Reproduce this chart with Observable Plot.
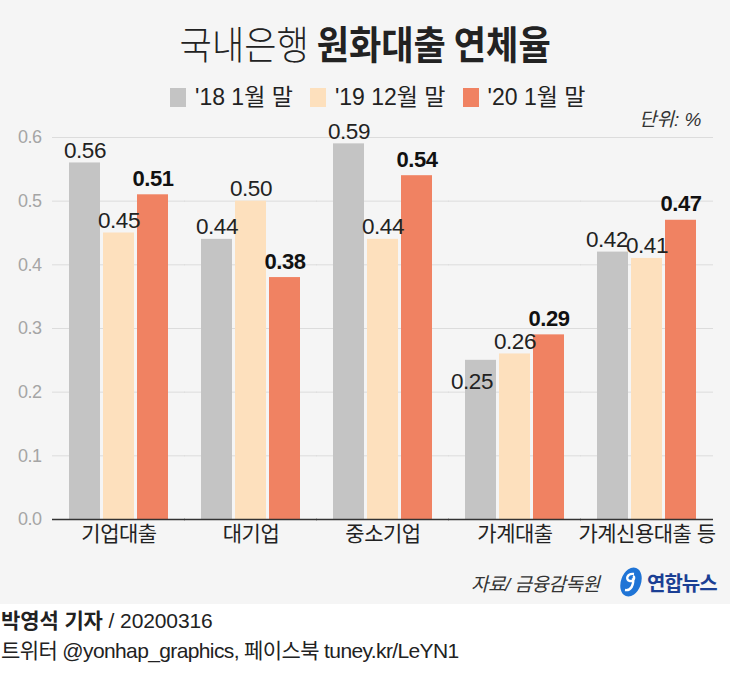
<!DOCTYPE html>
<html><head><meta charset="utf-8">
<script src="https://cdn.jsdelivr.net/npm/d3@7"></script>
<script src="https://cdn.jsdelivr.net/npm/@observablehq/plot@0.6"></script>
<style>
body{margin:0;width:730px;height:676px;background:#fff;font-family:"Liberation Sans","Noto Sans CJK KR",sans-serif;overflow:hidden;color:#222}
#top{position:relative;width:730px;height:604px;background:#f5f5f5}
#title{position:absolute;top:19px;left:0;width:730px;text-align:center;font-size:39px;white-space:nowrap;font-family:"Noto Sans CJK KR",sans-serif;color:#222;line-height:1.2}
#title .inner{display:inline-block;transform:scaleX(.9);transform-origin:center}
#title .l{font-weight:300}
#title .b{font-weight:700}
#legend{position:absolute;top:84px;left:170px;display:flex;align-items:center;font-size:23px;white-space:nowrap;line-height:26px}
#legend .item{display:flex;align-items:center;margin-right:17px}
#legend .sw{width:16px;height:19px;margin-right:9px}
#unit{position:absolute;top:104px;left:639px;font-size:19px;font-style:italic;color:#333}
#chart{position:absolute;top:110px;left:0}
#source{position:absolute;top:569px;left:471px;font-size:19px;font-style:italic;color:#333;white-space:nowrap;letter-spacing:-0.5px}
#logo{position:absolute;top:566px;left:619px;display:flex;align-items:center}
#logo span{font-family:"Noto Sans CJK KR",sans-serif;font-weight:700;font-size:20px;color:#1b3f94;letter-spacing:-1px;margin-left:4px}
#credits{position:absolute;top:606px;left:1px;font-size:21px;line-height:30px;color:#222;white-space:nowrap}
#credits .l1{letter-spacing:-0.1px}
#credits .l2{letter-spacing:-0.62px}
#chart text{letter-spacing:-0.5px}
</style>
</head><body>
<div id="top">
  <div id="title"><span class="inner"><span class="l">국내은행</span> <span class="b">원화대출 연체율</span></span></div>
  <div id="legend"></div>
  <div id="unit">단위: %</div>
  <div id="chart"></div>
  <div id="source">자료/ 금융감독원</div>
  <div id="logo"><svg width="24" height="32" viewBox="0 0 24 32"><ellipse cx="12" cy="16" rx="10" ry="15" transform="rotate(20 12 16)" fill="#1f74d6"/><path d="M15 8 C8 7 6 14 11 15 C15 16 16 11 14 10 M14 12 C15 19 12 25 6 24" stroke="#fff" stroke-width="2.4" fill="none"/></svg><span>연합뉴스</span></div>
</div>
<div id="credits"><span class="l1"><b>박영석 기자</b> / 20200316</span><br><span class="l2">트위터 @yonhap_graphics, 페이스북 tuney.kr/LeYN1</span></div>
<script>
const categories = ["기업대출", "대기업", "중소기업", "가계대출", "가계신용대출 등"];
const seriesNames = ["'18 1월 말", "'19 12월 말", "'20 1월 말"];
const values18Jan = [0.56, 0.44, 0.59, 0.25, 0.42];
const values19Dec = [0.45, 0.50, 0.44, 0.26, 0.41];
const values20Jan = [0.51, 0.38, 0.54, 0.29, 0.47];
const seriesColors = ["#c4c4c4", "#fde0bd", "#f08262"];
const yTicks = [0, 0.1, 0.2, 0.3, 0.4, 0.5, 0.6];
const insideLabels = [["가계대출", "'18 1월 말"]];
const leftNudgedLabels = [["가계신용대출 등", "'18 1월 말"]];

const seriesValues = [values18Jan, values19Dec, values20Jan];
const rows = categories.flatMap((c, i) => seriesNames.map((s, j) => ({category: c, series: s, value: seriesValues[j][i]})));
const inList = list => d => list.some(([c, s]) => c === d.category && s === d.series);
const isInside = inList(insideLabels);
const isNudged = inList(leftNudgedLabels);
const boldSeries = seriesNames[2];
const fmt = d => d.value.toFixed(2);

// legend
const legend = document.getElementById("legend");
seriesNames.forEach((s, i) => {
  const it = document.createElement("div");
  it.className = "item";
  it.innerHTML = `<div class="sw" style="background:${seriesColors[i]}"></div><span>${s}</span>`;
  legend.appendChild(it);
});

const regular = rows.filter(d => d.series !== boldSeries && !isInside(d));
const chart = Plot.plot({
  width: 730, height: 449,
  marginTop: 27, marginBottom: 40, marginLeft: 52, marginRight: 17,
  style: {background: "transparent", fontFamily: '"Liberation Sans","Noto Sans CJK KR",sans-serif', overflow: "visible"},
  fx: {domain: categories, paddingInner: 0.233, paddingOuter: 0.119, label: null},
  x: {domain: seriesNames, paddingInner: 0.1, paddingOuter: 0, axis: null},
  y: {domain: [0, 0.6], label: null},
  color: {domain: seriesNames, range: seriesColors},
  marks: [
    Plot.ruleY(yTicks.filter(t => t > 0), {stroke: "#dcdcdc", strokeWidth: 1, insetLeft: -16, insetRight: -16}),
    Plot.barY(rows, {fx: "category", x: "series", y: "value", fill: "series"}),
    Plot.ruleY([0], {stroke: "#333", strokeWidth: 1.5, insetLeft: -16, insetRight: -16}),
    Plot.axisY({ticks: yTicks, tickFormat: d3.format(".1f"), tickSize: 0, tickPadding: 27, fontSize: 18, color: "#a5a5a5", label: null}),
    Plot.axisFx({anchor: "bottom", tickSize: 0, tickPadding: 7, fontSize: 21, color: "#222", label: null}),
    Plot.text(regular.filter(d => !isNudged(d)), {fx: "category", x: "series", y: "value", text: fmt, lineAnchor: "bottom", dy: -5, fontSize: 22.5, fill: "#222"}),
    Plot.text(regular.filter(isNudged), {fx: "category", x: "series", y: "value", text: fmt, lineAnchor: "bottom", dx: -6, dy: -5, fontSize: 22.5, fill: "#222"}),
    Plot.text(rows.filter(d => d.series === boldSeries), {fx: "category", x: "series", y: "value", text: fmt, lineAnchor: "bottom", dy: -9, fontSize: 22, fontWeight: "bold", fill: "#111"}),
    Plot.text(rows.filter(isInside), {fx: "category", x: "series", y: "value", text: fmt, lineAnchor: "middle", dx: -9, dy: 21, fontSize: 22.5, fill: "#222"})
  ]
});
document.getElementById("chart").appendChild(chart);
</script>
</body></html>
